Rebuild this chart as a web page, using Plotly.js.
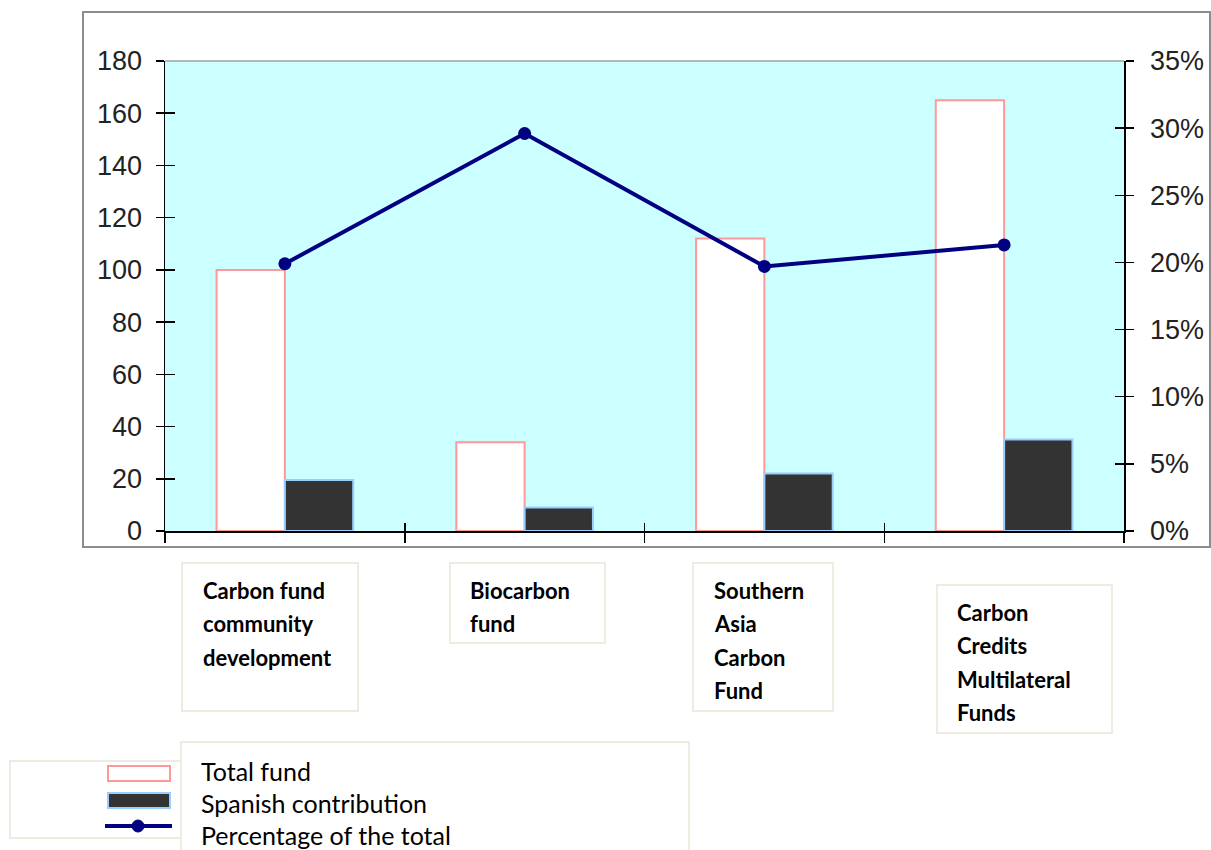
<!DOCTYPE html>
<html>
<head>
<meta charset="utf-8">
<script src="https://cdn.plot.ly/plotly-3.0.1.min.js"></script>
<style>
  html, body { margin: 0; padding: 0; background: #ffffff; }
  #chart { width: 1211px; height: 850px; }
</style>
</head>
<body>
<div id="chart"></div>
<script>
// Carbon funds: total size, Spanish contribution and the Spanish share of each fund
const categoryLines = [
  ['Carbon fund', 'community', 'development'],
  ['Biocarbon', 'fund'],
  ['Southern', 'Asia', 'Carbon', 'Fund'],
  ['Carbon', 'Credits', 'Multilateral', 'Funds']
];
const categories = categoryLines.map(l => l.join(' '));
const totalFund = [100, 34, 112, 165];
const spanishContribution = [19.5, 9, 22, 35];
const percentOfTotal = [0.199, 0.296, 0.197, 0.213];
const seriesNames = ['Total fund', 'Spanish contribution', 'Percentage of the total'];
const leftTicks = [0, 20, 40, 60, 80, 100, 120, 140, 160, 180];
const rightTicks = [0, 0.05, 0.10, 0.15, 0.20, 0.25, 0.30, 0.35];

// plot-area edges in page pixels, used to place the boxes around the chart
const L = 165, R = 1124, T = 61, B = 531;
const px = x => (x - L) / (R - L);
const py = y => (B - y) / (B - T);

const navy = '#000080';
const tickFont = { family: 'Liberation Sans, Arial, sans-serif', size: 27, color: '#222222' };

const traces = [
  {
    type: 'bar', name: seriesNames[0], x: categories, y: totalFund,
    marker: { color: '#ffffff', line: { color: '#FF9999', width: 2 } },
    hoverinfo: 'x+y'
  },
  {
    type: 'bar', name: seriesNames[1], x: categories, y: spanishContribution,
    marker: { color: '#333333', line: { color: '#99CCFF', width: 2 } },
    hoverinfo: 'x+y'
  },
  {
    type: 'scatter', mode: 'lines+markers', name: seriesNames[2],
    x: categories, y: percentOfTotal, yaxis: 'y2',
    line: { color: navy, width: 4 },
    marker: { color: navy, size: 13 }
  },
  // carriers for the inner halves of the crossing tick marks
  { type: 'scatter', x: categories, y: categories.map(() => null), xaxis: 'x2', yaxis: 'y3', hoverinfo: 'skip', showlegend: false },
  { type: 'scatter', x: categories, y: categories.map(() => null), xaxis: 'x2', yaxis: 'y4', hoverinfo: 'skip', showlegend: false }
];

const shapes = [];
const annotations = [];

function rectPx(x0, y0, x1, y1, line, fill, width) {
  shapes.push({
    type: 'rect', xref: 'paper', yref: 'paper',
    x0: px(x0), x1: px(x1), y0: py(y1), y1: py(y0),
    line: { color: line, width: width || 2 }, fillcolor: fill || 'rgba(0,0,0,0)'
  });
}

// outer chart frame
rectPx(83, 12, 1210, 547, '#8c8c8c', null, 2);
// top edge of the plot area
shapes.push({ type: 'line', xref: 'paper', yref: 'paper', x0: 0, x1: 1, y0: 1, y1: 1, line: { color: '#a0a0a0', width: 1.5 } });

// category label boxes under the axis
const labelBoxes = [
  { box: [182, 563, 358, 711], x: 201, y0: 590 },
  { box: [450, 563, 605, 643], x: 468, y0: 590 },
  { box: [693, 563, 833, 711], x: 712, y0: 590 },
  { box: [937, 585, 1112, 733], x: 955, y0: 612 }
];
const lineStep = 33.6;
labelBoxes.forEach((b, i) => {
  rectPx(b.box[0], b.box[1], b.box[2], b.box[3], '#EEECE1', '#ffffff', 2);
  categoryLines[i].forEach((t, j) => {
    annotations.push({
      xref: 'paper', yref: 'paper', x: px(b.x), y: py(b.y0 + j * lineStep),
      xanchor: 'left', yanchor: 'middle', showarrow: false, align: 'left',
      text: '<b>' + t + '</b>',
      font: { family: 'Lato, Carlito, sans-serif', size: 22, color: '#000000' }
    });
  });
});

// legend: key box with symbols, and the label box beside it
rectPx(10, 761, 320, 838, '#EEECE1', '#ffffff', 2);
rectPx(108, 766, 170, 781, '#FF9999', '#ffffff', 2);
rectPx(108, 793, 170, 808, '#99CCFF', '#333333', 2);
shapes.push({ type: 'line', xref: 'paper', yref: 'paper', x0: px(105), x1: px(172), y0: py(826), y1: py(826), line: { color: navy, width: 4 } });
shapes.push({ type: 'circle', xref: 'paper', yref: 'paper', x0: px(132), x1: px(144), y0: py(832), y1: py(820), line: { color: navy, width: 1 }, fillcolor: navy });
rectPx(181, 742, 689, 856, '#EEECE1', '#ffffff', 2);
const legendRows = [771, 803, 835];
seriesNames.forEach((n, i) => {
  annotations.push({
    xref: 'paper', yref: 'paper', x: px(199), y: py(legendRows[i]),
    xanchor: 'left', yanchor: 'middle', showarrow: false, align: 'left',
    text: n, font: { family: 'Lato, Carlito, sans-serif', size: 25, color: '#000000' }
  });
});

const axisBase = { showgrid: false, zeroline: false, tickcolor: '#000000', tickwidth: 1.5 };

const layout = {
  width: 1211, height: 850,
  margin: { l: L, r: 1211 - R, t: T, b: 850 - B, pad: 0 },
  paper_bgcolor: '#ffffff', plot_bgcolor: '#CCFFFF',
  showlegend: false,
  barmode: 'group', bargap: 0.43, bargroupgap: 0,
  xaxis: Object.assign({}, axisBase, {
    type: 'category', range: [-0.5, 3.5], tickson: 'boundaries',
    ticks: 'outside', ticklen: 10, showticklabels: false,
    showline: true, linecolor: '#000000', linewidth: 1.5
  }),
  xaxis2: Object.assign({}, axisBase, {
    type: 'category', overlaying: 'x', range: [-0.5, 3.5], tickson: 'boundaries',
    ticks: 'inside', ticklen: 8, showticklabels: false, showline: false
  }),
  yaxis: Object.assign({}, axisBase, {
    range: [0, 180], tickvals: leftTicks, ticks: 'outside', ticklen: 8,
    showline: true, linecolor: '#000000', linewidth: 1.5,
    tickfont: tickFont, ticklabelstandoff: 8
  }),
  yaxis2: Object.assign({}, axisBase, {
    overlaying: 'y', side: 'right', range: [0, 0.35], tickvals: rightTicks,
    tickformat: '.0%', ticks: 'outside', ticklen: 8,
    showline: true, linecolor: '#000000', linewidth: 1.5,
    tickfont: tickFont, ticklabelstandoff: 11
  }),
  yaxis3: Object.assign({}, axisBase, {
    overlaying: 'y', side: 'left', range: [0, 180], tickvals: leftTicks,
    ticks: 'inside', ticklen: 10, showticklabels: false, showline: false
  }),
  yaxis4: Object.assign({}, axisBase, {
    overlaying: 'y', side: 'right', range: [0, 0.35], tickvals: rightTicks,
    ticks: 'inside', ticklen: 9, showticklabels: false, showline: false
  }),
  shapes: shapes,
  annotations: annotations
};

Plotly.newPlot('chart', traces, layout, { displayModeBar: false, staticPlot: true });
</script>
</body>
</html>
